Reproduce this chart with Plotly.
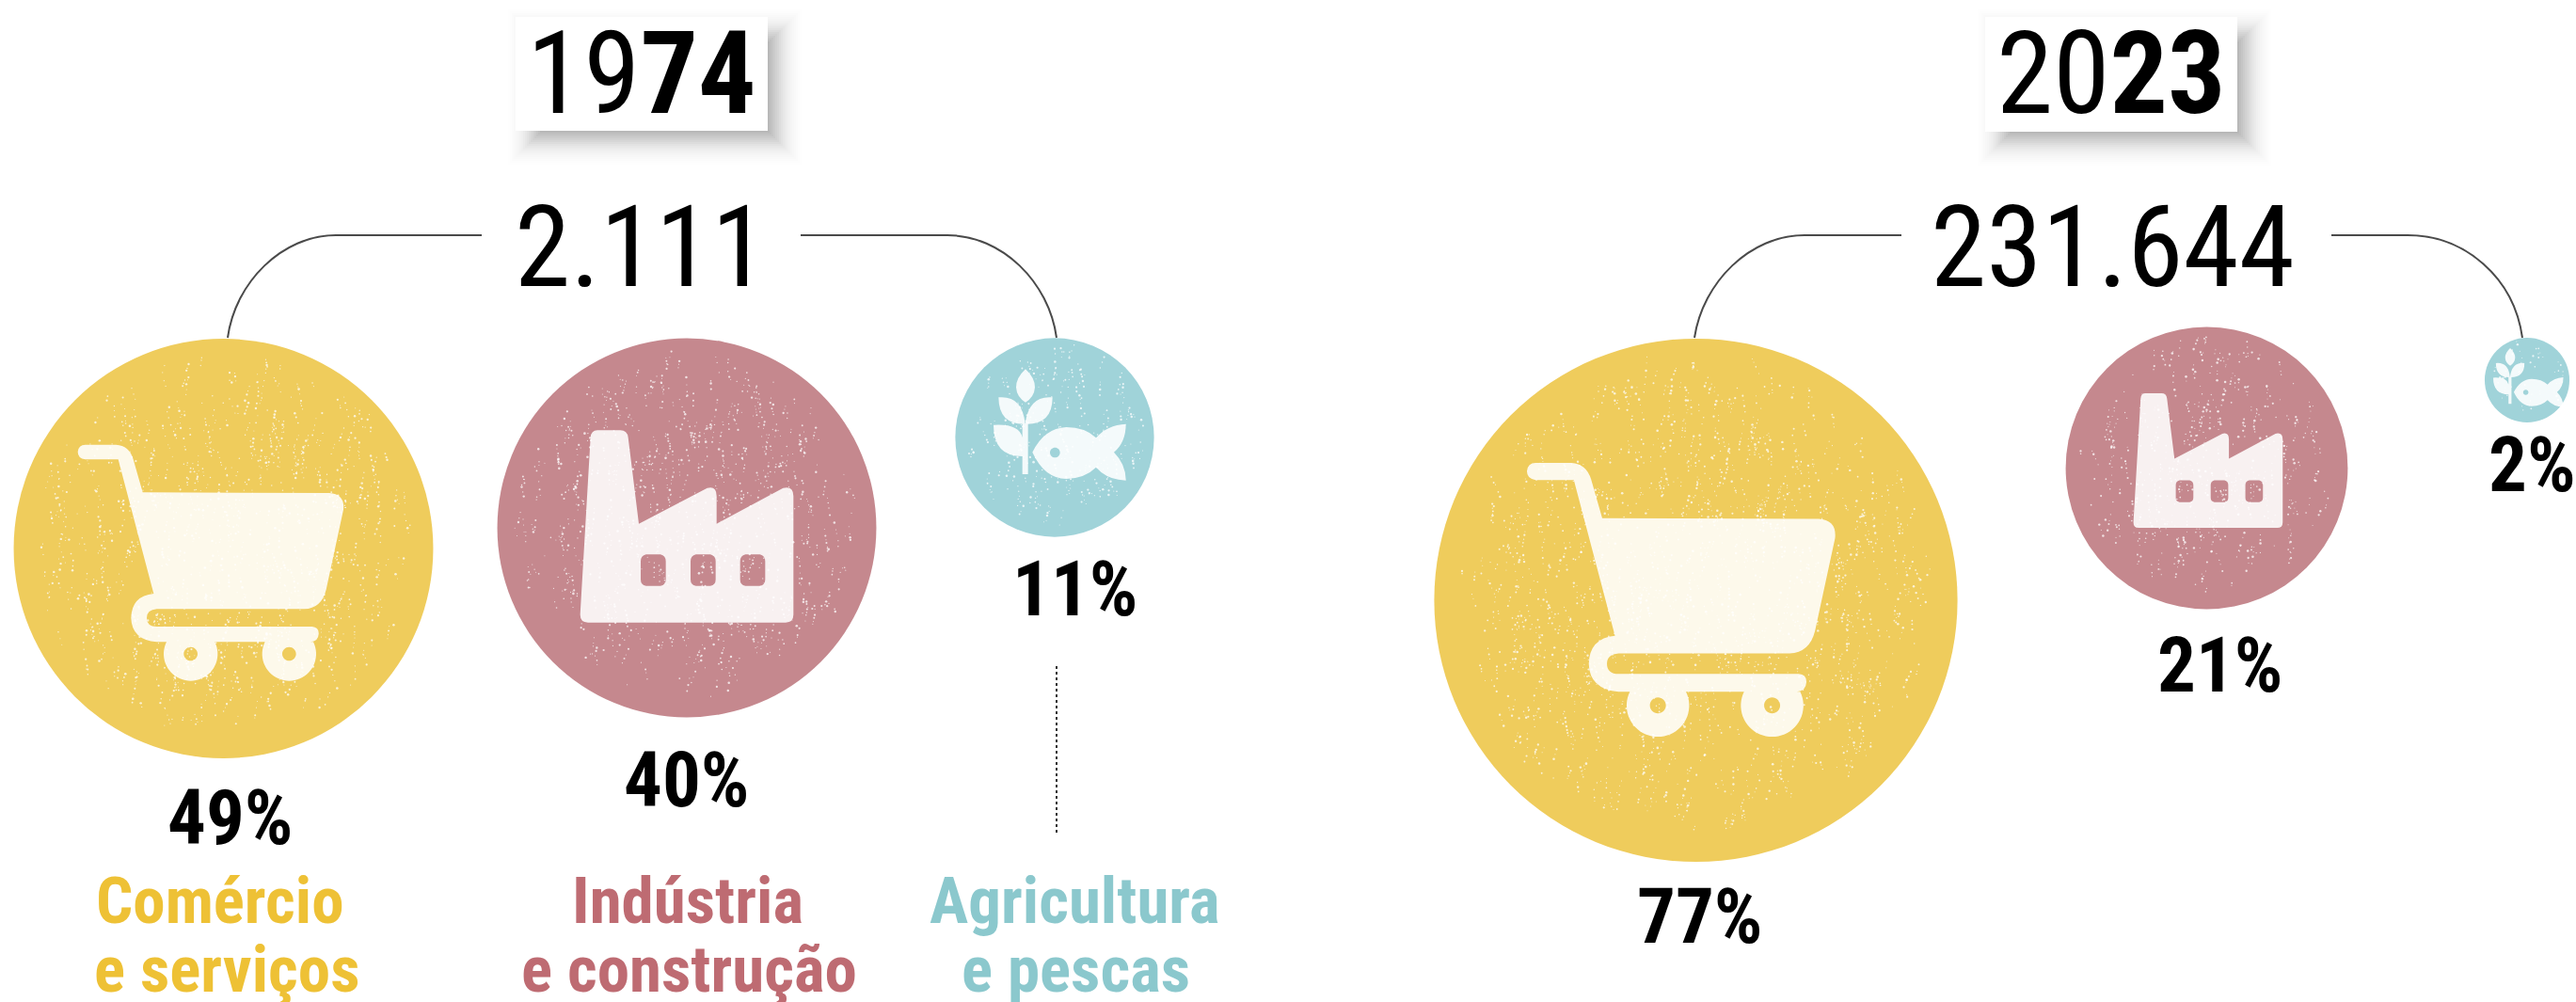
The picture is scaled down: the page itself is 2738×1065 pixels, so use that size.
import math
import plotly.graph_objects as go

# ---------- data ----------
years_bold = [("19", "74"), ("20", "23")]
totals = ["2.111", "231.644"]
sector_labels = [("Comércio", "e serviços"), ("Indústria", "e construção"), ("Agricultura", "e pescas")]
share_1974 = [49, 40, 11]
share_2023 = [77, 21, 2]

# ---------- layout constants (pixels on a 2738x1065 canvas) ----------
W, H = 2738, 1065
FONT = "'Roboto Condensed', 'Liberation Sans Narrow', Roboto, sans-serif"
FILL = ["#EFCC5C", "#C5888E", "#A0D3D9"]
LABEL = ["#EEC135", "#BE6B72", "#8BC8CD"]
K = 31.85
ADJ_1974 = [1, 1, 1]
ADJ_2023 = [0.995, 1.027, 1]
CX_1974, CY_1974 = [237.5, 730, 1121], [583, 561, 465]
CX_2023, CY_2023 = [1802.5, 2345.5, 2686], [638, 497.5, 404]
PCT_POS_1974 = [(245, 869), (730, 829), (1143, 626)]
PCT_POS_2023 = [(1807, 974), (2360, 707), (2691, 494)]
LABEL_X = [(234, 241), (731, 732), (1142, 1143)]
LABEL_Y = (957.5, 1030.5)

sizes = [2 * K * math.sqrt(v) * a for v, a in zip(share_1974 + share_2023, ADJ_1974 + ADJ_2023)]
cx = CX_1974 + CX_2023
cy = CY_1974 + CY_2023

fig = go.Figure()
fig.add_trace(go.Scatter(x=cx, y=cy, mode="markers", hoverinfo="skip", showlegend=False,
                         marker=dict(size=sizes, sizemode="diameter", sizeref=1,
                                     color=FILL * 2, line=dict(width=0), opacity=1)))

# ---------- worn-print texture (decoration only, fixed deterministic hash) ----------
def h(a):
    return (math.sin(a * 12.9898 + 4.1) * 43758.5453) % 1

sx, sy, ss = [], [], []
for c, (x0, y0, d) in enumerate(zip(cx, cy, sizes)):
    r = d / 2
    n = int(r * r / 48)
    for k in range(1, n):
        seed = k + 1000 * c
        rad = math.sqrt(h(seed)) * 0.90 * r
        th = 2 * math.pi * h(seed + 0.37)
        # denser in the central band, thinning out towards the rim
        if h(seed + 0.71) < (rad / (0.9 * r)) ** 3 * 0.6:
            continue
        ang = math.radians(-25 + 50 * h(seed + 0.13))
        m = 1 + int(h(seed + 0.53) * 3.4)
        pos = 0.0
        for j in range(m):
            sx.append(x0 + rad * math.cos(th) + pos * math.sin(ang))
            sy.append(y0 + rad * math.sin(th) - pos * math.cos(ang))
            ss.append(1.0 + 1.6 * h(seed + j + 0.91) ** 2)
            pos += 2.5 + 6 * h(seed + j + 0.29)
fig.add_trace(go.Scatter(x=sx, y=sy, mode="markers", hoverinfo="skip", showlegend=False,
                         marker=dict(size=ss, color="white", opacity=0.75, line=dict(width=0))))

# ---------- icon geometry, in the pixel frame of the 1974 icons ----------
def xf(path_tokens, ox, oy, tx, ty, s):
    out = []
    for t in path_tokens:
        if isinstance(t, str):
            out.append(t)
        else:
            x, y = t
            out.append(f"{tx + s * (x - ox):.2f},{ty + s * (y - oy):.2f}")
    return " ".join(out)

def parse(d, fx, fy, div=3.0):
    toks = []
    for part in d.split():
        if part[0].isalpha():
            toks.append(part[0])
            part = part[1:]
            if not part:
                continue
        a, b = part.split(",")
        toks.append((fx + float(a) / div, fy + float(b) / div))
    return toks

def circ(cx_, cy_, r):
    c = 0.5523 * r
    return (f"M{cx_-r},{cy_} C{cx_-r},{cy_-c} {cx_-c},{cy_-r} {cx_},{cy_-r} "
            f"C{cx_+c},{cy_-r} {cx_+r},{cy_-c} {cx_+r},{cy_} "
            f"C{cx_+r},{cy_+c} {cx_+c},{cy_+r} {cx_},{cy_+r} "
            f"C{cx_-c},{cy_+r} {cx_-r},{cy_+c} {cx_-r},{cy_} Z")

def wheel(cx_, cy_, r, top):
    # lower part of a wheel, cut flat where it meets the rail
    a0 = math.asin((top - cy_) / r)
    pts = []
    for i in range(41):
        a = a0 + (math.pi - 2 * a0) * i / 40
        pts.append(f"{cx_ + r * math.cos(a):.1f},{cy_ + r * math.sin(a):.1f}")
    return "M" + " L".join(pts) + " Z"

CART = ("M92,68 L190,68 Q232,70 245,115 L275,220 L870,222 Q920,225 915,275 L860,530 Q845,590 790,592 "
        "L320,592 Q288,595 288,620 Q288,648 320,648 L815,648 Q838,650 836,672 Q835,695 810,697 "
        "L320,697 Q240,690 238,620 Q240,550 310,543 L197,115 L92,115 Q68,112 68,91 Q70,68 92,68 Z "
        + wheel(428, 735, 86, 697) + " " + circ(428, 735, 22) + " "
        + wheel(742, 735, 86, 697) + " " + circ(742, 735, 22))
def window(x):
    return (f"M{x+17},448 L{x+63},448 Q{x+80},452 {x+80},470 L{x+80},528 Q{x+80},545 {x+63},548 "
            f"L{x+17},548 Q{x},545 {x},528 L{x},470 Q{x},452 {x+17},448 Z")
FACTORY = ("M105,52 L178,52 Q200,52 203,75 L237,350 L455,236 Q485,228 485,262 L485,350 L697,236 "
           "Q730,228 730,262 L730,640 Q730,665 705,665 L75,665 Q50,665 50,640 L83,75 Q85,52 105,52 Z "
           + window(243) + " " + window(402) + " " + window(560))
PLANT = ("M320,332 L338,332 L338,492 L320,492 Z "
         "M330,157 Q360,185 360,215 Q358,245 330,263 Q302,245 300,215 Q300,185 330,157 Z "
         "M244,247 Q320,240 329,332 Q245,335 244,247 Z "
         "M416,247 Q340,240 329,332 Q416,335 416,247 Z "
         "M228,335 Q310,330 320,375 L320,435 Q228,435 228,335 Z "
         "M352,422 Q390,345 460,342 Q520,342 555,376 Q590,335 650,332 Q650,390 612,422 Q650,460 650,512 "
         "Q590,510 555,470 Q520,505 460,507 Q390,505 352,422 Z " + circ(424, 423, 16))

def tok(d):
    # separate commands from numbers for the parser
    for c in "MLQCZ":
        d = d.replace(c, " " + c)
    return d.strip()

icons = [
    (CART, 60, 450, 82.7, 472.7, [(82.7, 472.7, 1.0), (1623, 492, 1.16)]),
    (FACTORY, 600, 440, 616.7, 457.3, [(616.7, 457.3, 1.0), (2267.6, 418, 0.70)]),
    (PLANT, 980, 340, 1056, 392.3, [(1056, 392.3, 1.0), (2650, 370, 0.53)]),
]
shapes = []
for d, fx, fy, ox, oy, places in icons:
    toks = parse(tok(d), fx, fy)
    for tx, ty, s in places:
        shapes.append(dict(type="path", path=xf(toks, ox, oy, tx, ty, s), xref="x", yref="y",
                           fillcolor="rgba(255,255,255,0.88)", line=dict(width=0), layer="above"))

# ---------- year boxes with soft shadow (alpha ramps up inwards) ----------
for (x0, y0, x1, y1) in [(548, 18, 816, 139), (2110, 18, 2378, 140)]:
    for g in range(22, -15, -2):
        a = 0.004 + 0.042 * ((22 - g) / 36) ** 1.3
        shapes.append(dict(type="rect", x0=x0 + 14 - g, y0=y0 + 14 - g, x1=x1 + 14 + g, y1=y1 + 14 + g,
                           xref="x", yref="y", fillcolor=f"rgba(50,50,50,{a:.4f})", line=dict(width=0), layer="below"))
    shapes.append(dict(type="rect", x0=x0, y0=y0, x1=x1, y1=y1, xref="x", yref="y",
                       fillcolor="white", line=dict(width=0), layer="below"))

# ---------- connectors ----------
for p in ["M512,250 L357,250 C300,250 250,300 242,359",
          "M851,250 L1007,250 C1065,250 1115,300 1123,359",
          "M2021,250 L1918,250 C1860,250 1810,300 1801,359",
          "M2478,250 L2559,250 C2620,250 2672,295 2681,359"]:
    shapes.append(dict(type="path", path=p, xref="x", yref="y", line=dict(color="#4A4A4A", width=2), layer="below"))
shapes.append(dict(type="line", x0=1123, x1=1123, y0=708, y1=887, xref="x", yref="y",
                   line=dict(color="#333333", width=2, dash="dot"), layer="below"))

# ---------- text ----------
def txt(x, y, s, size, color="black", bold=False):
    fig.add_annotation(x=x, y=y, text=s, showarrow=False, xref="x", yref="y", xanchor="center", yanchor="middle",
                       align="center", font=dict(family=FONT, size=size, color=color,
                                                 weight=700 if bold else 400))

for (a, b), x in zip(years_bold, (682, 2244)):
    txt(x, 78, f"{a}<b>{b}</b>", 122)
for t, x, s in zip(totals, (681, 2245), (120, 120)):
    txt(x, 263, t, s)
for v, (x, y) in zip(share_1974, PCT_POS_1974):
    txt(x, y, f"{v}%", 81, bold=True)
for v, (x, y) in zip(share_2023, PCT_POS_2023):
    txt(x, y, f"{v}%", 81, bold=True)
for lines, c, xs in zip(sector_labels, LABEL, LABEL_X):
    for s, x, y in zip(lines, xs, LABEL_Y):
        txt(x, y, s, 69, color=c, bold=True)

fig.update_layout(width=W, height=H, margin=dict(l=0, r=0, t=0, b=0), autosize=False,
                  paper_bgcolor="white", plot_bgcolor="rgba(0,0,0,0)", shapes=shapes, showlegend=False,
                  xaxis=dict(range=[0, W], visible=False, fixedrange=True),
                  yaxis=dict(range=[H, 0], visible=False, fixedrange=True))
fig.write_html("out.html", config=dict(displayModeBar=False, responsive=False),
               post_script="document.body.style.margin='0';document.documentElement.style.overflow='hidden';")
